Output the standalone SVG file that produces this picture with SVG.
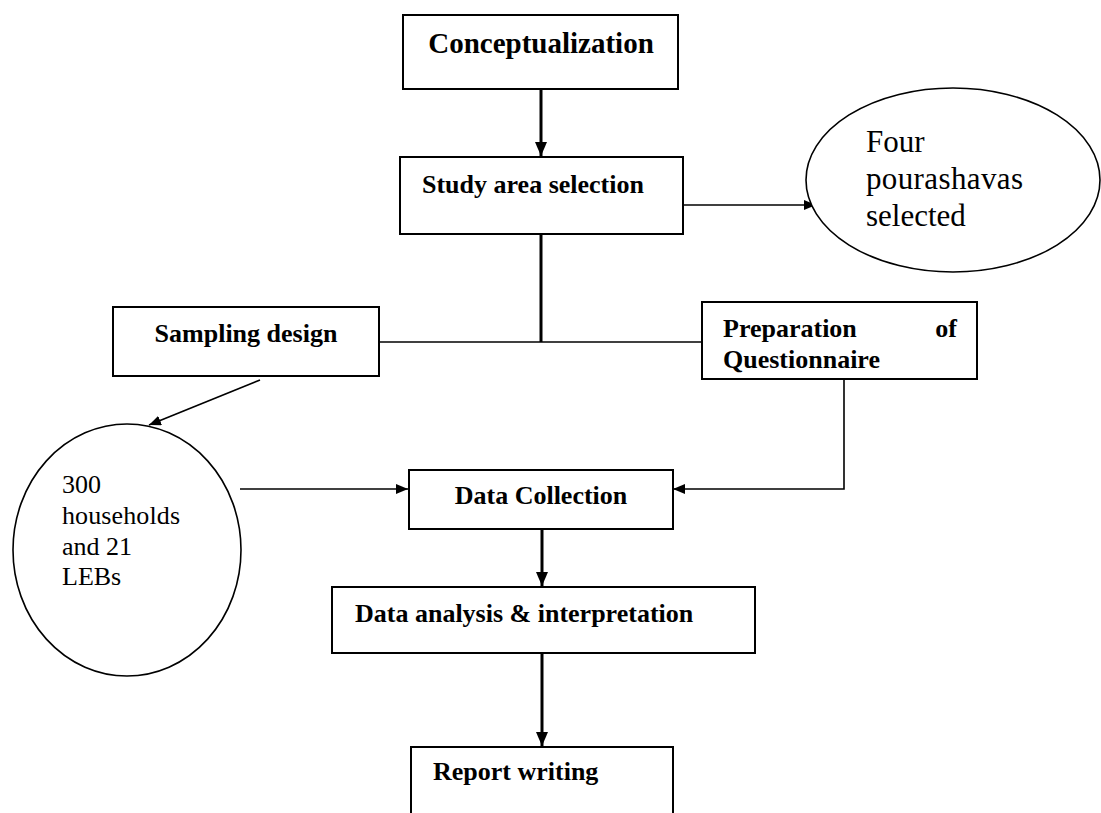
<svg xmlns="http://www.w3.org/2000/svg" width="1101" height="813" viewBox="0 0 1101 813">
<style>
.box{fill:#fff;stroke:#000;stroke-width:2}
.ell{fill:#fff;stroke:#000;stroke-width:1.6}
.b{font-family:"Liberation Serif","Times New Roman",Tinos,serif;font-weight:bold;font-size:26px;fill:#000}
.r{font-family:"Liberation Serif","Times New Roman",Tinos,"DejaVu Serif",serif;font-weight:normal;font-style:normal;font-size:26px;fill:#000}
.thick{fill:none;stroke:#000;stroke-width:3}
.thin{fill:none;stroke:#000;stroke-width:1.6}
</style>
<defs>
<marker id="ah" viewBox="0 0 14 12" refX="14" refY="6" markerWidth="14" markerHeight="12" markerUnits="userSpaceOnUse" orient="auto"><path d="M0,0 L14,6 L0,12 z" fill="#000"/></marker>
<marker id="ahs" viewBox="0 0 12 10" refX="12" refY="5" markerWidth="12" markerHeight="10" markerUnits="userSpaceOnUse" orient="auto"><path d="M0,0 L12,5 L0,10 z" fill="#000"/></marker>
</defs>
<rect width="1101" height="813" fill="#fff"/>
<g id="connectors">
<line class="thick" x1="541" y1="89" x2="541" y2="156" marker-end="url(#ah)"/>
<line class="thin" x1="683" y1="205" x2="816" y2="205" marker-end="url(#ahs)"/>
<line class="thick" x1="541" y1="234" x2="541" y2="342"/>
<line class="thin" x1="379" y1="342" x2="702" y2="342"/>
<line class="thin" x1="260" y1="380" x2="149" y2="425" marker-end="url(#ahs)"/>
<line class="thin" x1="240" y1="489" x2="408" y2="489" marker-end="url(#ahs)"/>
<polyline class="thin" points="844,379 844,489 673,489" marker-end="url(#ahs)"/>
<line class="thick" x1="542" y1="529" x2="542" y2="586" marker-end="url(#ah)"/>
<line class="thick" x1="542" y1="653" x2="542" y2="746" marker-end="url(#ah)"/>
</g>
<g id="conceptualization">
<rect class="box" x="403" y="15" width="275" height="74"/>
<text class="b" x="541" y="53" text-anchor="middle" style="font-size:29px">Conceptualization</text>
</g>
<g id="study-area">
<rect class="box" x="400" y="157" width="283" height="77"/>
<text class="b" x="422" y="193">Study area selection</text>
</g>
<g id="four-pourashavas">
<ellipse class="ell" cx="953" cy="180" rx="147" ry="92"/>
<text class="r" x="866" y="152" style="font-size:31px">Four</text>
<text class="r" x="866" y="189" style="font-size:31px" textLength="157">pourashavas</text>
<text class="r" x="866" y="226" style="font-size:31px">selected</text>
</g>
<g id="sampling-design">
<rect class="box" x="113" y="307" width="266" height="69"/>
<text class="b" x="246" y="342" text-anchor="middle">Sampling design</text>
</g>
<g id="questionnaire">
<rect class="box" x="702" y="302" width="275" height="77"/>
<text class="b" x="723" y="337">Preparation</text>
<text class="b" x="957" y="337" text-anchor="end">of</text>
<text class="b" x="723" y="368">Questionnaire</text>
</g>
<g id="households">
<ellipse class="ell" cx="127" cy="550" rx="114" ry="126"/>
<text class="r" x="62" y="493">300</text>
<text class="r" x="62" y="524" textLength="118">households</text>
<text class="r" x="62" y="555">and 21</text>
<text class="r" x="62" y="585">LEBs</text>
</g>
<g id="data-collection">
<rect class="box" x="409" y="470" width="264" height="59"/>
<text class="b" x="541" y="504" text-anchor="middle">Data Collection</text>
</g>
<g id="data-analysis">
<rect class="box" x="332" y="587" width="423" height="66"/>
<text class="b" x="355" y="622">Data analysis &amp; interpretation</text>
</g>
<g id="report-writing">
<rect class="box" x="411" y="747" width="262" height="90"/>
<text class="b" x="433" y="780">Report writing</text>
</g>
</svg>
